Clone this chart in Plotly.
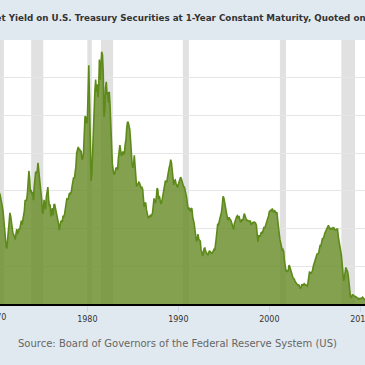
import plotly.graph_objects as go
import pandas as pd

# Market Yield on U.S. Treasury Securities at 1-Year Constant Maturity (monthly, %)
years = list(range(1970, 2011))
gs1 = [
    [8.17, 7.82, 6.99, 7.32, 7.37, 7.26, 7.04, 6.74, 6.44, 6.13, 5.40, 4.89],  # 1970
    [4.14, 3.77, 3.69, 4.30, 5.04, 5.64, 6.04, 5.80, 5.41, 4.91, 4.67, 4.60],  # 1971
    [4.28, 4.27, 4.67, 4.96, 4.64, 4.93, 4.96, 4.98, 5.52, 5.52, 5.27, 5.52],  # 1972
    [5.89, 6.19, 6.85, 6.85, 6.89, 7.31, 8.39, 8.82, 8.31, 7.40, 7.57, 7.27],  # 1973
    [7.42, 6.88, 7.76, 8.62, 8.78, 8.67, 8.80, 9.36, 8.87, 8.05, 7.66, 7.31],  # 1974
    [6.83, 5.98, 6.11, 6.90, 6.39, 6.29, 7.11, 7.70, 7.75, 6.95, 6.49, 6.60],  # 1975
    [5.81, 6.18, 6.35, 5.88, 6.59, 6.60, 6.38, 6.14, 5.87, 5.56, 5.32, 4.89],  # 1976
    [5.29, 5.47, 5.50, 5.44, 5.84, 5.80, 5.94, 6.37, 6.53, 6.97, 6.95, 6.96],  # 1977
    [7.28, 7.34, 7.31, 7.45, 7.82, 8.09, 8.39, 8.31, 8.64, 9.14, 10.01, 10.30],  # 1978
    [10.41, 10.24, 10.25, 10.12, 10.12, 9.57, 9.64, 9.98, 10.84, 12.44, 12.39, 11.98],  # 1979
    [12.06, 13.92, 15.82, 13.30, 9.39, 8.16, 8.65, 10.24, 11.52, 12.49, 14.15, 14.88],  # 1980
    [14.08, 14.57, 13.71, 14.32, 16.20, 14.86, 15.72, 16.72, 16.52, 15.38, 12.41, 12.85],  # 1981
    [14.32, 14.73, 13.95, 13.98, 13.34, 14.07, 13.24, 11.43, 10.85, 9.32, 8.91, 8.62],  # 1982
    [8.62, 8.92, 9.04, 8.98, 8.90, 9.66, 10.20, 10.53, 10.16, 9.81, 9.94, 10.11],  # 1983
    [9.90, 10.04, 10.59, 10.90, 11.66, 12.08, 12.03, 11.82, 11.58, 10.90, 9.82, 9.33],  # 1984
    [9.02, 9.29, 9.86, 9.14, 8.46, 7.80, 7.86, 8.05, 8.07, 8.01, 7.88, 7.67],  # 1985
    [7.73, 7.61, 7.03, 6.44, 6.65, 6.73, 6.27, 5.93, 5.77, 5.72, 5.80, 5.87],  # 1986
    [5.78, 5.96, 6.03, 6.50, 7.00, 6.80, 6.68, 7.03, 7.67, 7.59, 6.96, 7.17],  # 1987
    [6.99, 6.64, 6.71, 7.01, 7.40, 7.49, 7.75, 8.17, 8.09, 8.11, 8.48, 8.99],  # 1988
    [9.05, 9.25, 9.57, 9.36, 8.98, 8.44, 7.89, 8.18, 8.22, 7.99, 7.77, 7.72],  # 1989
    [7.92, 8.11, 8.35, 8.40, 8.32, 8.10, 7.94, 7.78, 7.76, 7.55, 7.31, 7.05],  # 1990
    [6.64, 6.27, 6.40, 6.24, 6.13, 6.36, 6.31, 5.78, 5.57, 5.33, 4.89, 4.38],  # 1991
    [4.15, 4.29, 4.63, 4.30, 4.19, 4.17, 3.60, 3.47, 3.18, 3.30, 3.68, 3.71],  # 1992
    [3.50, 3.39, 3.33, 3.24, 3.36, 3.54, 3.47, 3.44, 3.36, 3.39, 3.58, 3.61],  # 1993
    [3.54, 3.87, 4.32, 4.82, 5.31, 5.27, 5.48, 5.56, 5.76, 6.11, 6.54, 7.14],  # 1994
    [7.05, 6.70, 6.43, 6.27, 6.00, 5.64, 5.59, 5.75, 5.62, 5.59, 5.43, 5.31],  # 1995
    [5.09, 4.94, 5.34, 5.54, 5.64, 5.81, 5.85, 5.67, 5.83, 5.55, 5.42, 5.47],  # 1996
    [5.61, 5.53, 5.80, 5.99, 5.87, 5.69, 5.54, 5.56, 5.52, 5.46, 5.46, 5.53],  # 1997
    [5.24, 5.31, 5.39, 5.38, 5.44, 5.41, 5.36, 5.21, 4.71, 4.12, 4.53, 4.52],  # 1998
    [4.51, 4.70, 4.78, 4.69, 4.85, 5.10, 5.03, 5.20, 5.25, 5.43, 5.55, 5.84],  # 1999
    [6.12, 6.22, 6.22, 6.15, 6.33, 6.17, 6.08, 6.18, 6.13, 6.01, 6.09, 5.60],  # 2000
    [4.81, 4.68, 4.30, 3.98, 3.78, 3.58, 3.62, 3.47, 2.82, 2.33, 2.18, 2.22],  # 2001
    [2.16, 2.23, 2.57, 2.48, 2.35, 2.20, 1.96, 1.76, 1.72, 1.65, 1.49, 1.45],  # 2002
    [1.36, 1.30, 1.24, 1.27, 1.18, 1.01, 1.12, 1.31, 1.24, 1.25, 1.34, 1.31],  # 2003
    [1.24, 1.24, 1.19, 1.43, 1.78, 2.12, 2.10, 2.02, 2.12, 2.23, 2.50, 2.67],  # 2004
    [2.86, 3.03, 3.30, 3.32, 3.33, 3.36, 3.64, 3.87, 3.85, 4.18, 4.33, 4.35],  # 2005
    [4.45, 4.68, 4.77, 4.90, 5.00, 5.16, 5.22, 5.08, 4.97, 5.01, 5.01, 4.94],  # 2006
    [5.06, 5.05, 4.92, 4.93, 4.91, 4.96, 4.96, 4.47, 4.14, 4.10, 3.50, 3.26],  # 2007
    [2.71, 2.05, 1.54, 1.74, 2.06, 2.42, 2.28, 2.18, 1.91, 1.42, 1.07, 0.49],  # 2008
    [0.44, 0.62, 0.64, 0.55, 0.50, 0.51, 0.48, 0.46, 0.40, 0.37, 0.31, 0.37],  # 2009
    [0.35, 0.35, 0.40, 0.45, 0.37, 0.32, 0.29, 0.26, 0.26, 0.23, 0.25, 0.29],  # 2010
]

recession_starts = ["1969-12-01", "1973-11-01", "1980-01-01", "1981-07-01",
                    "1990-07-01", "2001-03-01", "2007-12-01"]
recession_ends = ["1970-11-01", "1975-03-01", "1980-07-01", "1982-11-01",
                  "1991-03-01", "2001-11-01", "2009-06-01"]

tick_years = ["1980", "1990", "2000", "2010"]
first_tick_label = "1970"

title_text = ("Market Yield on U.S. Treasury Securities at 1-Year Constant Maturity, "
              "Quoted on an Investment Basis")
source_text = "Source: Board of Governors of the Federal Reserve System (US)"

dates = []
values = []
for y, row in zip(years, gs1):
    for m, v in enumerate(row):
        dates.append(pd.Timestamp(year=y, month=m + 1, day=1))
        values.append(v)

fig = go.Figure()
fig.add_trace(go.Scatter(
    x=dates, y=values, mode="lines", fill="tozeroy",
    line=dict(color="#5e8a1a", width=1.6),
    fillcolor="rgba(104,140,40,0.82)",
    hoverinfo="skip", showlegend=False,
))

for s, e in zip(recession_starts, recession_ends):
    fig.add_shape(type="rect", xref="x", yref="paper", x0=s, x1=e, y0=0, y1=1,
                  fillcolor="#e1e1e1", line=dict(width=0), layer="below")

fig.update_layout(
    width=365, height=365,
    margin=dict(l=0, r=0, t=40, b=61, autoexpand=False),
    paper_bgcolor="#e1e9f0",
    plot_bgcolor="#ffffff",
    font=dict(family="DejaVu Sans", color="#333333"),
    xaxis=dict(
        type="date",
        range=["1970-05-29", "2010-07-08"],
        tickvals=[f"{t}-01-01" for t in tick_years],
        ticktext=tick_years,
        ticklabeloverflow="allow",
        showgrid=False,
        ticks="outside", ticklen=6, tickcolor="#ccd6eb",
        tickfont=dict(size=8, color="#333333"),
        showline=True, linecolor="#000000", linewidth=2,
        zeroline=False,
    ),
    yaxis=dict(
        range=[0, 17.5], dtick=2.5,
        showgrid=True, gridcolor="#e6e6e6", gridwidth=1,
        showticklabels=False, zeroline=False, showline=False,
    ),
    annotations=[
        dict(text="<b>" + title_text + "</b>", xref="paper", yref="paper",
             x=-31 / 365, y=1 + 22 / 264, xanchor="left", yanchor="middle",
             showarrow=False, font=dict(size=8.75, color="#333333", family="DejaVu Sans")),
        dict(text=source_text, xref="paper", yref="paper",
             x=177.5 / 365, y=-39 / 264, xanchor="center", yanchor="middle",
             showarrow=False, font=dict(size=10, color="#666666", family="DejaVu Sans")),
        dict(text=first_tick_label, xref="paper", yref="paper",
             x=-4.5 / 365, y=-13 / 264, xanchor="center", yanchor="middle",
             showarrow=False, font=dict(size=8, color="#333333", family="DejaVu Sans")),
    ],
)

fig.write_html("out.html",
               config={"displayModeBar": False, "staticPlot": True},
               post_script="document.body.style.margin='0';document.body.style.overflow='hidden';")
